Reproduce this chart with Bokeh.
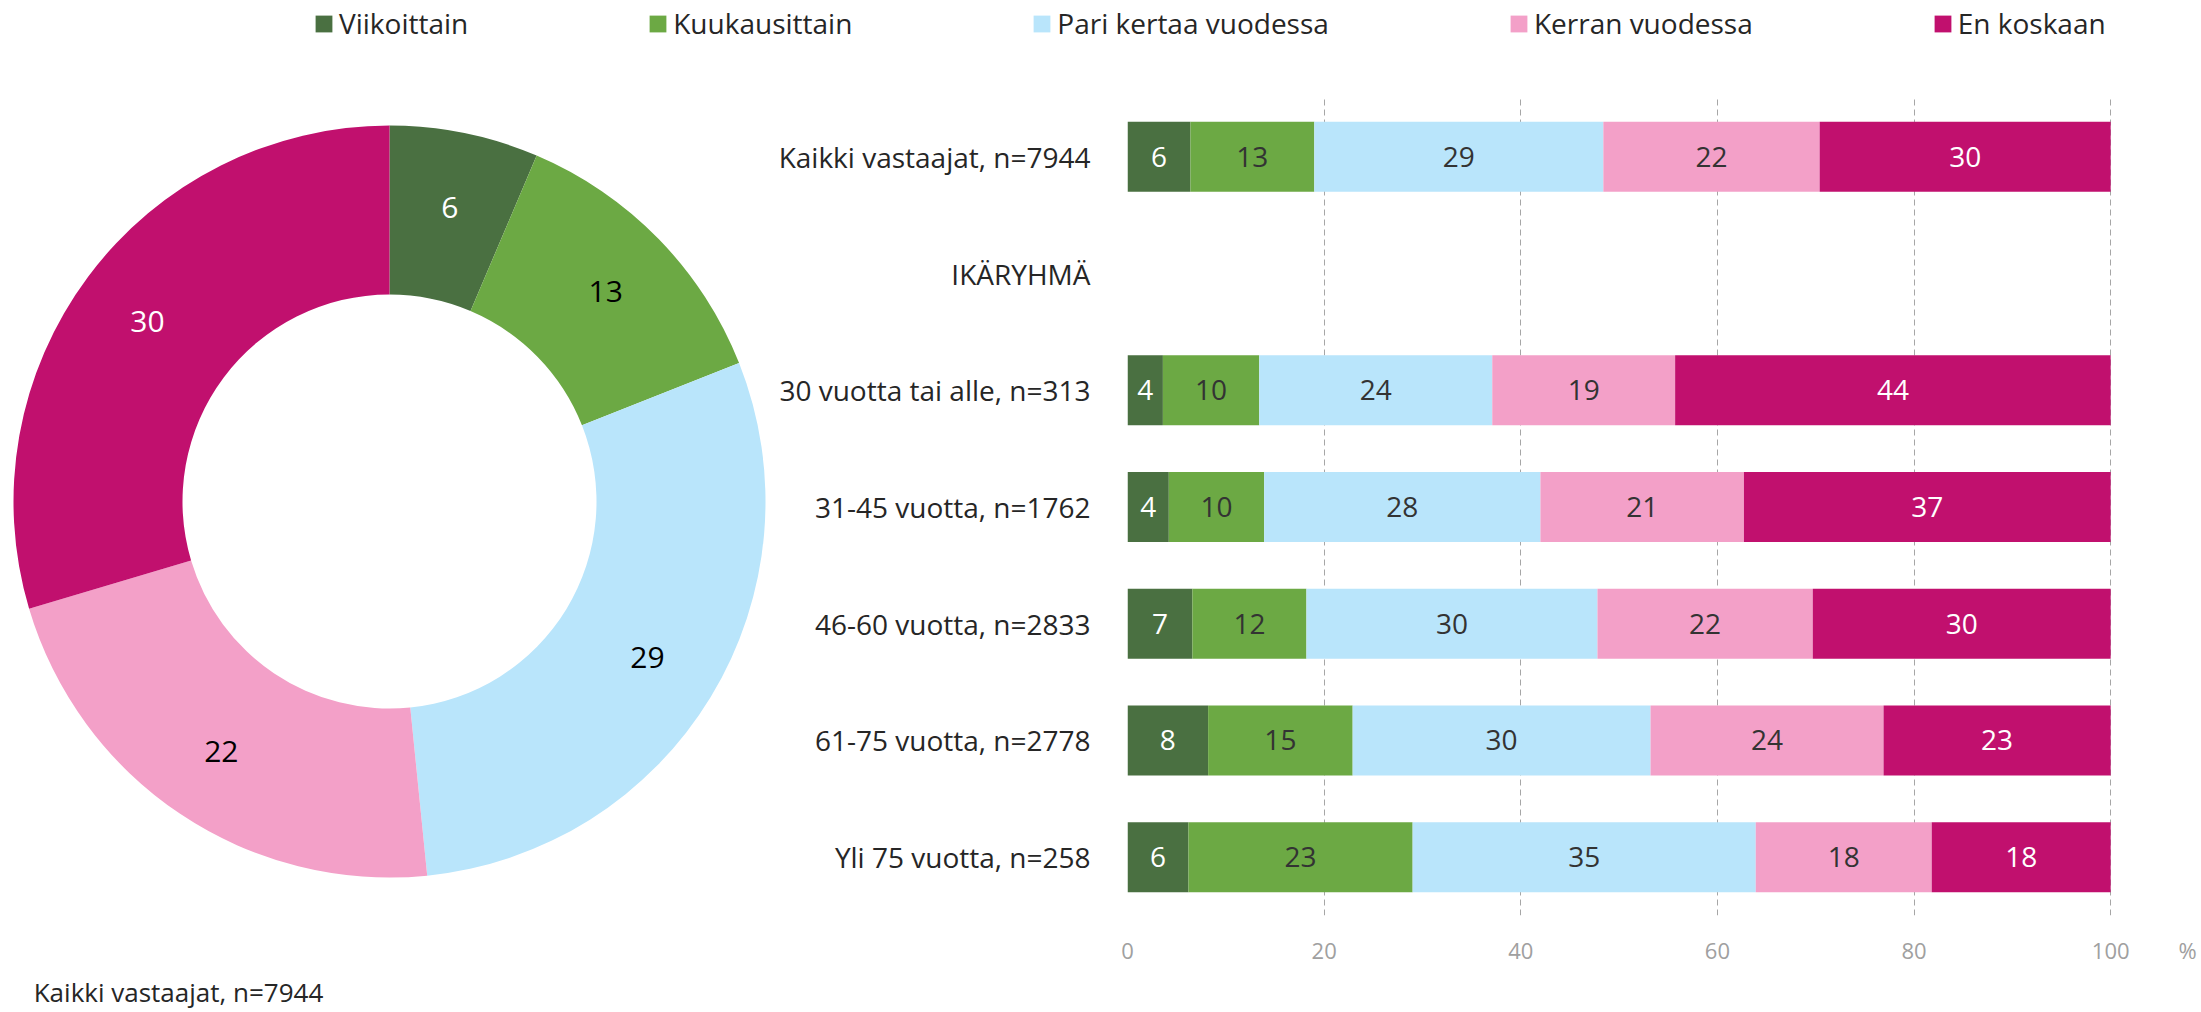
import numpy as np
from bokeh.plotting import figure
from bokeh.models import (ColumnDataSource, FactorRange, Range1d, Legend, LegendItem,
                          FixedTicker)
from bokeh.layouts import column, row
from bokeh.embed import file_html
from bokeh.resources import INLINE

# ---------------- data ----------------
series = ["Viikoittain", "Kuukausittain", "Pari kertaa vuodessa", "Kerran vuodessa", "En koskaan"]

categories = ["Kaikki vastaajat, n=7944", "IKÄRYHMÄ", "30 vuotta tai alle, n=313",
              "31-45 vuotta, n=1762", "46-60 vuotta, n=2833", "61-75 vuotta, n=2778",
              "Yli 75 vuotta, n=258"]
bar_groups = ["Kaikki vastaajat, n=7944", "30 vuotta tai alle, n=313", "31-45 vuotta, n=1762",
              "46-60 vuotta, n=2833", "61-75 vuotta, n=2778", "Yli 75 vuotta, n=258"]

viikoittain   = [6.4, 3.6, 4.2, 6.6, 8.2, 6.2]
kuukausittain = [12.6, 9.8, 9.7, 11.6, 14.7, 22.8]
pari_kertaa   = [29.4, 23.7, 28.1, 29.6, 30.3, 34.9]
kerran        = [22.0, 18.6, 20.7, 21.9, 23.7, 17.9]
en_koskaan    = [29.6, 44.3, 37.3, 30.3, 23.1, 18.2]

pie_group = "Kaikki vastaajat, n=7944"
x_ticks = [0, 20, 40, 60, 80, 100]
x_unit = "%"

# ---------------- styles / layout constants ----------------
FONT = "Open Sans"
colors = ["#4A7041", "#6CA944", "#B9E5FB", "#F3A0C8", "#C1106E"]
bar_label_colors = ["#FFFFFF", "#333333", "#333333", "#333333", "#FFFFFF"]
pie_label_colors = ["#FFFFFF", "#000000", "#000000", "#000000", "#FFFFFF"]
TEXT = "#262626"
GREY = "#A0A0A0"

W, H = 2201, 1012
LEG_H = 55
DON_W = 775
FRAME_TOP, FRAME_BOTTOM = 98, 919          # page y of bar frame
FRAME_LEFT, X100 = 1125, 2110              # page x of 0 % and 100 %
DON_CX, DON_CY = 389, 503                  # page position of donut centre
UNIT_POS = 2187                            # page x of "%" label
CAPTION_CX = 178                           # page x of caption centre

values = [viikoittain, kuukausittain, pari_kertaa, kerran, en_koskaan]

# ---------------- legend figure ----------------
leg_fig = figure(width=W, height=LEG_H, output_backend="svg", toolbar_location=None,
                 x_range=Range1d(0, 1), y_range=Range1d(0, 1),
                 x_axis_location=None, y_axis_location=None, min_border=0)
leg_fig.outline_line_color = None
leg_fig.grid.grid_line_color = None
items = []
for name, c in zip(series, colors):
    r = leg_fig.rect(x=[-5], y=[-5], width=1, height=1, fill_color=c, line_color=None)
    items.append(LegendItem(label=name, renderers=[r]))
legend = Legend(items=items, orientation="horizontal", location=(313, 13),
                spacing=179, glyph_width=21, glyph_height=21, label_standoff=5,
                padding=0, margin=0, border_line_color=None, background_fill_alpha=0,
                label_text_font=FONT, label_text_font_size="28px", label_text_color=TEXT)
leg_fig.add_layout(legend)

# ---------------- donut figure ----------------
bar_h = H - LEG_H
don = figure(width=DON_W, height=bar_h, output_backend="svg", toolbar_location=None,
             x_range=Range1d(-DON_CX, DON_W - DON_CX),
             y_range=Range1d(-(FRAME_BOTTOM - DON_CY), DON_CY - FRAME_TOP),
             x_axis_location="below", y_axis_location=None, min_border=0)
don.outline_line_color = None
don.grid.grid_line_color = None

gi = bar_groups.index(pie_group)
pie_vals = np.array([v[gi] for v in values])
frac = pie_vals / pie_vals.sum()
cum = np.concatenate([[0], np.cumsum(frac)])
start = np.pi / 2 - 2 * np.pi * cum[1:]
end = np.pi / 2 - 2 * np.pi * cum[:-1]
mid = (start + end) / 2
R_OUT, R_IN, R_LAB = 376, 207, 302
pie_src = ColumnDataSource(dict(start=start, end=end, color=colors, name=series,
                                lx=R_LAB * np.cos(mid), ly=R_LAB * np.sin(mid),
                                txt=[f"{v:.0f}" for v in pie_vals], tc=pie_label_colors))
don.annular_wedge(x=0, y=0, inner_radius=R_IN, outer_radius=R_OUT, start_angle="start",
                  end_angle="end", direction="anticlock", fill_color="color",
                  line_color=None, source=pie_src)
don.text(x="lx", y="ly", text="txt", text_color="tc", text_align="center",
         text_baseline="middle", text_font_size="30px", text_font={"value": FONT},
         source=pie_src)

# caption below the donut, rendered as the single label of its x axis
cap_tick = float(CAPTION_CX - DON_CX)
don.xaxis.ticker = FixedTicker(ticks=[cap_tick])
don.xaxis.major_label_overrides = {cap_tick: pie_group}
don.xaxis.axis_line_color = None
don.xaxis.major_tick_line_color = None
don.xaxis.minor_tick_line_color = None
don.xaxis.major_tick_out = 0
don.xaxis.major_tick_in = 0
don.xaxis.minor_tick_out = 0
don.xaxis.major_label_text_color = TEXT
don.xaxis.major_label_text_font = FONT
don.xaxis.major_label_text_font_size = "26px"
don.xaxis.major_label_standoff = 58

# ---------------- bar figure ----------------
bar_w = W - DON_W
px_per_unit = (X100 - FRAME_LEFT) / 100
x_end = (W - FRAME_LEFT) / px_per_unit
unit_tick = (UNIT_POS - FRAME_LEFT) / px_per_unit

bar = figure(width=bar_w, height=bar_h, output_backend="svg", toolbar_location=None,
             y_range=FactorRange(factors=list(reversed(categories)), range_padding=0),
             x_range=Range1d(0, x_end), min_border_left=FRAME_LEFT - DON_W,
             min_border_right=0, min_border_top=FRAME_TOP - LEG_H,
             min_border_bottom=H - FRAME_BOTTOM)
bar.outline_line_color = None
bar.ygrid.grid_line_color = None
bar.xgrid.ticker = FixedTicker(ticks=x_ticks)
bar.xgrid.grid_line_color = "#A6A6A6"
bar.xgrid.grid_line_dash = "6 4"
bar.xgrid.grid_line_width = 1

left = np.zeros(len(bar_groups))
for name, vals, c, tc in zip(series, values, colors, bar_label_colors):
    vals = np.array(vals)
    right = left + vals
    src = ColumnDataSource(dict(y=bar_groups, left=left, right=right,
                                mx=(left + right) / 2, txt=[f"{v:.0f}" for v in vals]))
    bar.hbar(y="y", left="left", right="right", height=0.6, fill_color=c,
             line_color=None, source=src)
    bar.text(x="mx", y="y", text="txt", text_color=tc, text_align="center",
             text_baseline="middle", text_font_size="28px", text_font={"value": FONT},
             source=src)
    left = right

bar.xaxis.ticker = FixedTicker(ticks=x_ticks + [unit_tick])
bar.xaxis.major_label_overrides = {unit_tick: x_unit}
bar.xaxis.axis_line_color = None
bar.xaxis.major_tick_line_color = None
bar.xaxis.minor_tick_line_color = None
bar.xaxis.major_label_text_color = GREY
bar.xaxis.major_label_text_font = FONT
bar.xaxis.major_label_text_font_size = "22px"
bar.xaxis.major_label_standoff = 13

bar.yaxis.axis_line_color = None
bar.yaxis.major_tick_line_color = None
bar.yaxis.minor_tick_line_color = None
bar.yaxis.major_label_text_color = TEXT
bar.yaxis.major_label_text_font = FONT
bar.yaxis.major_label_text_font_size = "28px"
bar.yaxis.major_label_standoff = 31

layout = column(leg_fig, row(don, bar))
open("out.html", "w").write(file_html(layout, INLINE))
